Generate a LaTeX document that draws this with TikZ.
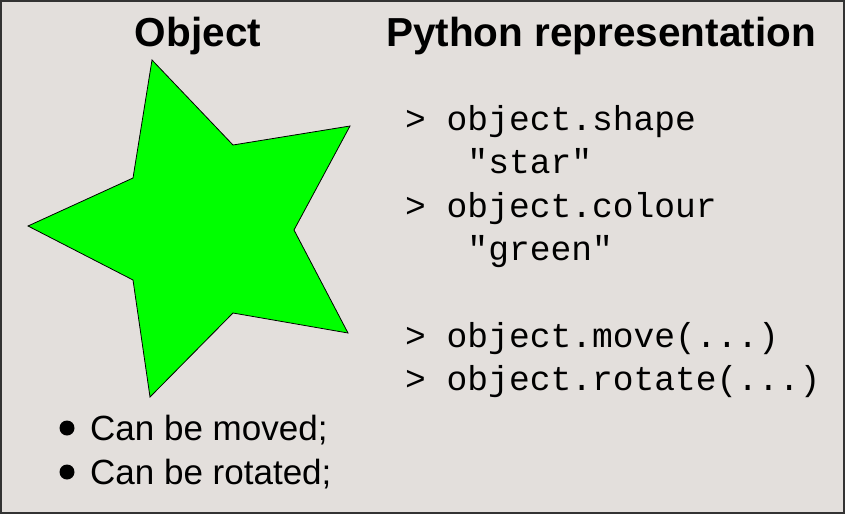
\documentclass[tikz,border=0pt]{standalone}
\usepackage{fontspec}
\setmainfont{Liberation Sans}
\setmonofont{Liberation Mono}
\usepackage{xcolor}
\definecolor{panelbg}{HTML}{E3DFDC}
\definecolor{starfill}{HTML}{00FF00}
\usetikzlibrary{positioning}

\begin{document}
\begin{tikzpicture}[
    x=1pt, y=-1pt,
    title/.style={
        anchor=base,
        inner sep=0pt,
        font=\fontsize{40.5}{48}\selectfont\bfseries
    },
    codeline/.style={
        anchor=base west,
        inner sep=0pt,
        font=\fontsize{34.6}{40}\selectfont\ttfamily
    },
    item/.style={
        anchor=base west,
        inner sep=0pt,
        font=\fontsize{35}{42}\selectfont
    },
    dot/.style={
        circle,
        fill=black,
        inner sep=0pt,
        minimum size=15pt
    }
]
    \useasboundingbox (0,0) rectangle (845,514);
    \fill[panelbg] (0,0) rectangle (845,514);
    \draw[line width=2pt, black!80] (1,1) rectangle (844,513);

    % headings
    \node[title] (objtitle) at (198,46) {Object};
    \node[title] (pytitle) at (601,46) {Python representation};

    % the object itself
    \draw[fill=starfill, line width=0.8pt, line join=miter]
        (152,60) -- (233,145) -- (350,126) -- (294,230) -- (348,333)
        -- (233,313) -- (150,397) -- (133,280) -- (28,226) -- (133,178)
        -- cycle;

    % what it can do
    \node[dot] (dotmoved) at (67,428) {};
    \node[item] (moved) at (90,440) {Can be moved;};
    \node[dot] (dotrotated) at (67,472) {};
    \node[item] (rotated) at (90,484) {Can be rotated;};

    % python side
    \node[codeline] (shape) at (405,130) {> object.shape};
    \node[codeline] (shapeval) at (405,173) {\hphantom{xxx}"star"};
    \node[codeline] (colour) at (405,217) {> object.colour};
    \node[codeline] (colourval) at (405,260) {\hphantom{xxx}"green"};
    \node[codeline] (move) at (405,347) {> object.move(...)};
    \node[codeline] (rotate) at (405,390) {> object.rotate(...)};
\end{tikzpicture}
\end{document}
